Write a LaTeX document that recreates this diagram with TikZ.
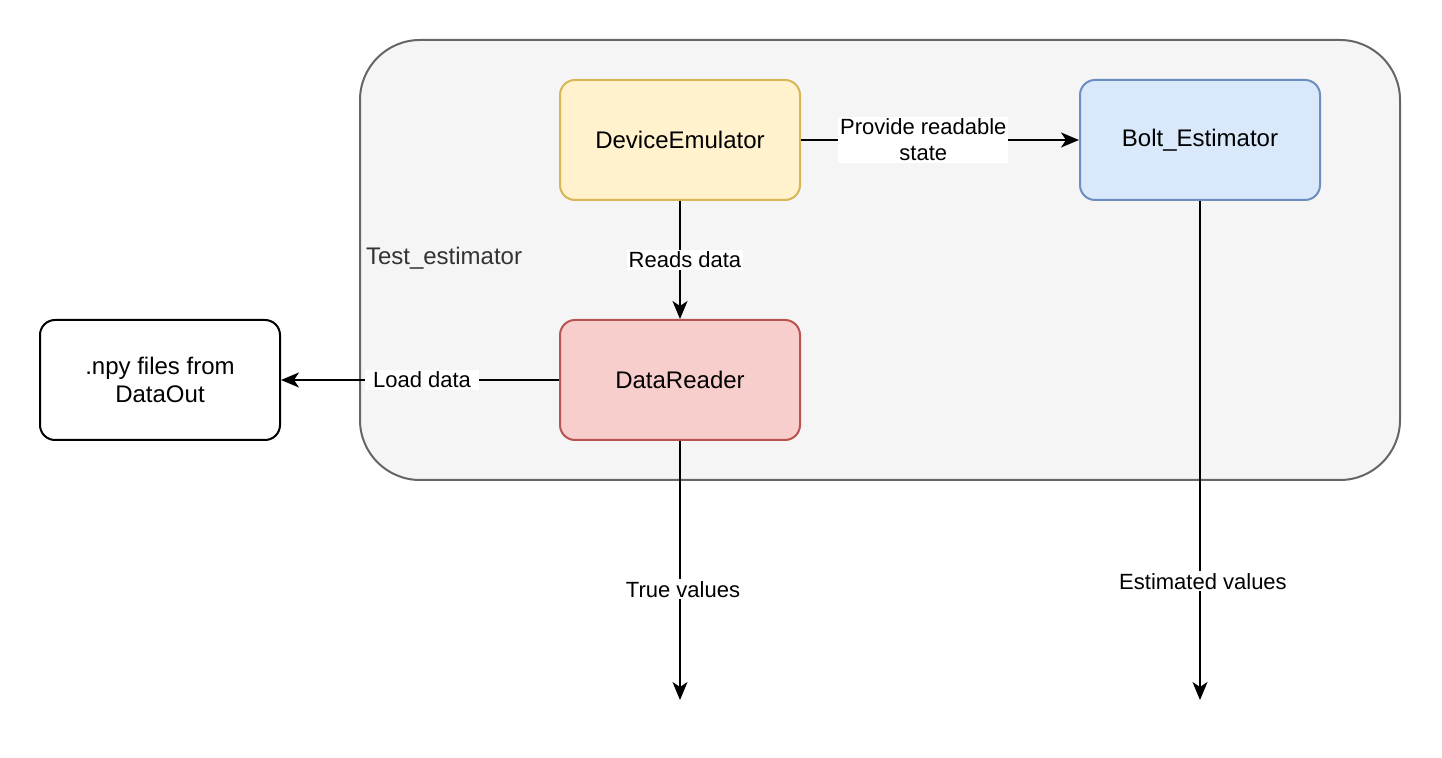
\documentclass[tikz,border=0pt]{standalone}
\usepackage{fontspec}
\setmainfont{Liberation Sans}
\usetikzlibrary{arrows.meta}
\definecolor{outerfill}{HTML}{F5F5F5}
\definecolor{outerline}{HTML}{666666}
\definecolor{titlegray}{HTML}{333333}
\definecolor{emufill}{HTML}{FFF2CC}
\definecolor{emuline}{HTML}{D6B656}
\definecolor{boltfill}{HTML}{DAE8FC}
\definecolor{boltline}{HTML}{6C8EBF}
\definecolor{readfill}{HTML}{F8CECC}
\definecolor{readline}{HTML}{B85450}
\begin{document}
\begin{tikzpicture}[x=0.5pt, y=-0.5pt, font=\fontsize{12}{14}\selectfont, line join=round, line width=1pt,
    >={Stealth[length=9pt,width=7.5pt,inset=2.5pt]},
    block/.style={draw, rounded corners=7.5pt, minimum width=120pt, minimum height=60pt, align=center, inner sep=0pt},
    lbl/.style={fill=white, font=\fontsize{11}{13}\selectfont, inner sep=1pt, align=center}]
    \useasboundingbox (0,0) rectangle (1442,758);
    % outer container
    \draw[fill=outerfill, draw=outerline, rounded corners=30pt] (360,40) rectangle (1400,480);
    \node[anchor=west, inner sep=0pt, text=titlegray] (title) at (365,258) {Test\_estimator};
    % blocks
    \node[block, fill=emufill, draw=emuline] (emu) at (680,140) {DeviceEmulator};
    \node[block, fill=boltfill, draw=boltline] (bolt) at (1200,140) {Bolt\_Estimator};
    \node[block, fill=readfill, draw=readline] (reader) at (680,380) {DataReader};
    \node[block, fill=white] (npy) at (160,380) {.npy files from\\DataOut};
    \coordinate (trueend) at (680,700);
    \coordinate (estend) at (1200,700);
    % connectors
    \draw[->] (emu) -- node[lbl, pos=0.44] {Provide readable\\state} (bolt);
    \draw[->] (emu) -- node[lbl, xshift=2.5pt] {Reads data} (reader);
    \draw[->] (reader) -- node[lbl, inner xsep=4pt, xshift=1pt] {Load data} (npy);
    \draw[->] (reader) -- node[lbl, pos=0.573, xshift=1.5pt] {True values} (trueend);
    \draw[->] (bolt) -- node[lbl, pos=0.762, xshift=1.5pt] {Estimated values} (estend);
\end{tikzpicture}
\end{document}
